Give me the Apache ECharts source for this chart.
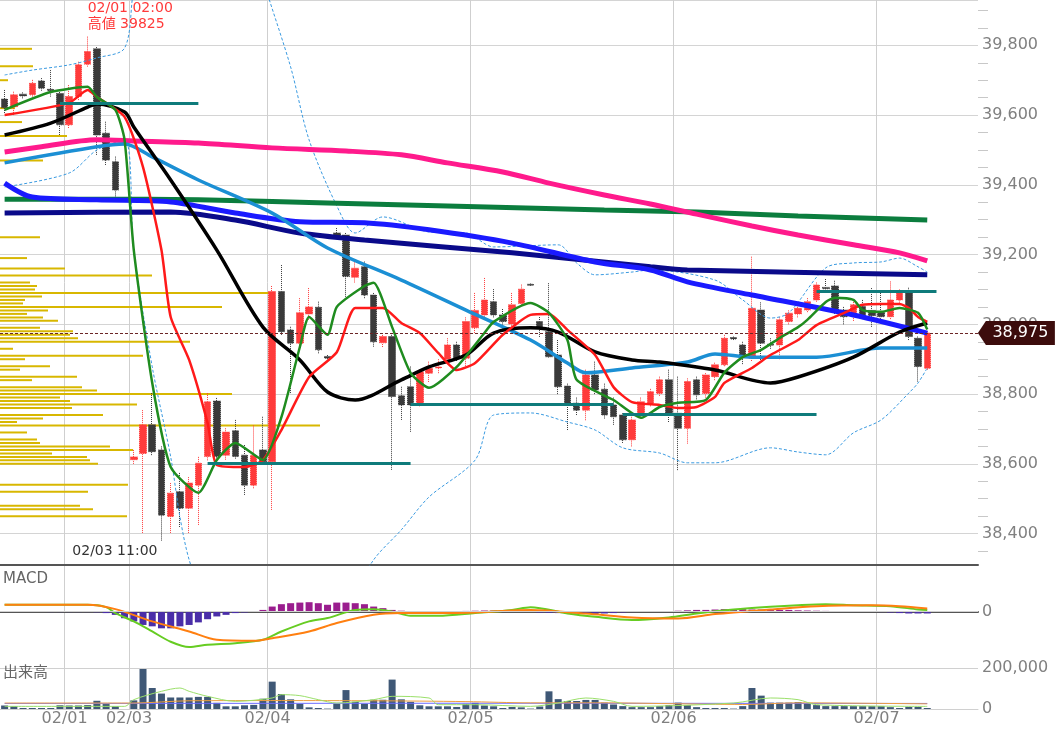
<!DOCTYPE html>
<html><head><meta charset="utf-8">
<script src="https://cdn.jsdelivr.net/npm/echarts@6/dist/echarts.min.js"></script>
<style>html,body{margin:0;padding:0;background:#fff}#c{width:1063px;height:752px}</style>
</head><body><div id="c"></div>
<script>
// ---------- time axis ----------
const slotTimes = ["00:00","01:00","02:00","03:00","04:00","05:00","06:00","08:45","09:00","10:00","11:00","12:00","13:00","14:00","15:00","17:00","18:00","19:00","20:00","21:00","22:00","23:00"];
const sessionDays = [["01/31",15,22],["02/01",0,7],["02/03",7,22],["02/04",0,22],["02/05",0,22],["02/06",0,22],["02/07",0,11]];

// ---------- candles (hourly) ----------
const opens = [39646,39624,39660,39658,39698,39674,39662,39572,39653,39746,
39790,39548,39466,null,38612,38630,38712,38640,38449,38520,
38473,38539,38621,38780,38625,38695,38625,38539,38640,38606,
39094,38984,38946,39030,39049,38908,39262,39256,39135,39165,
39084,38947,38965,38795,38821,38769,38860,38875,38900,38941,
38903,38990,39027,39065,39027,39001,39060,39115,39008,38979,
38912,38823,38774,38754,38855,38814,38769,38740,38669,38740,
38774,38802,38841,38745,38702,38841,38802,38850,38884,38962,
38941,38903,39041,38943,38941,39008,39030,39041,39070,39106,
39110,39041,39027,39051,39040,39035,39022,39070,39094,38960,
38874];
const closes = [39621,39658,39655,39691,39677,39670,39572,39653,39744,39782,
39543,39471,39385,null,38620,38712,38635,38453,38516,38473,
38545,38602,38778,38621,38691,38621,38539,38625,38606,39094,
38979,38946,39033,39050,38927,38903,39250,39137,39161,39084,
38950,38965,38793,38769,38769,38864,38874,38878,38941,38903,
39008,39040,39070,39027,39008,39056,39101,39112,38989,38907,
38821,38774,38754,38855,38812,38740,38735,38669,38726,38778,
38807,38841,38745,38702,38836,38798,38855,38884,38960,38958,
38912,39046,38946,38940,39013,39032,39046,39065,39113,39102,
39040,39022,39056,39022,39025,39022,39070,39094,38965,38879,
38975];
const lows = [39606,39600,39648,39653,39670,39653,39543,39563,39643,39739,
39486,39457,39361,null,38600,38402,38625,38380,38402,38419,
38402,38425,38610,38610,38612,38615,38511,38530,38602,38468,
38970,38803,38940,39013,38917,38900,39245,39079,39120,39075,
38936,38935,38583,38726,38692,38765,38835,38860,38895,38895,
38880,38975,39022,39020,38988,38983,39056,39110,38964,38905,
38800,38697,38740,38725,38800,38730,38712,38660,38650,38730,
38765,38795,38720,38582,38658,38785,38790,38840,38880,38955,
38886,38895,38892,38930,38900,39000,39020,39035,39065,39095,
39030,39000,39010,39015,38993,39010,39015,39060,38955,38836,
38870];
const highs = [39672,39667,39665,39701,39706,39729,39672,39686,39753,39825,
39795,39581,39481,null,38640,38754,38803,38650,38545,38574,
38562,38620,38803,38789,38702,38726,38654,38710,38735,39110,
39170,38993,39075,39104,39065,38912,39276,39262,39180,39180,
39090,38975,38970,38821,38879,38870,38893,38900,38960,38950,
39020,39090,39133,39101,39044,39090,39114,39117,39021,39118,
38955,38830,38790,38870,38893,38830,38790,38745,38735,38790,
38815,38850,38870,38850,38845,38850,38860,38890,38970,38965,
38950,39194,39063,38960,39020,39040,39055,39075,39120,39130,
39125,39050,39070,39070,39104,39090,39123,39100,39105,38965,
38980];
const volumes = [17000,13000,5000,5000,5000,5000,18000,17000,17000,19000,
40000,24000,13000,0,42000,195000,102000,75000,56000,56000,
56000,59000,59000,30000,13000,13000,18000,20000,50000,133000,
73000,47000,25000,8000,5000,2000,25000,92000,35000,25000,
45000,45000,143000,47000,35000,18000,13000,13000,13000,10000,
25000,30000,17000,13000,5000,10000,8000,2000,12000,86000,
48000,39000,39000,44000,44000,31000,22000,14000,9000,9000,
9000,14000,19000,31000,19000,9000,5000,5000,5000,2000,
14000,102000,65000,31000,31000,31000,34000,27000,19000,14000,
14000,14000,14000,14000,14000,14000,9000,5000,10000,10000,
5000];

// ---------- overlays [candle index, price] ----------
const pinkMA = [[0,39494],[4,39509],[10,39529],[14,39526],[21,39520],[29,39506],[37,39497],[43,39486],[48,39463],[54,39437],[59,39405],[65,39371],[70,39345],[75,39316],[81,39282],[86,39256],[92,39228],[97,39205],[100,39182]];
const greenLongMA = [[0,39359],[10,39359],[21,39357],[35,39348],[48,39339],[65,39328],[75,39322],[86,39311],[100,39299]];
const navyMA = [[0,39319],[18,39322],[25,39299],[32,39262],[39,39242],[55,39205],[70,39165],[74,39156],[100,39142]];
const blueMA = [[0,39405],[3,39365],[10,39357],[18,39351],[25,39319],[32,39294],[39,39291],[46,39271],[55,39233],[64,39179],[70,39156],[74,39122],[81,39084],[92,39027],[100,38975]];
const lightBlueMA = [[0,39463],[10,39509],[13,39517],[16,39480],[21,39414],[29,39319],[35,39219],[43,39127],[50,39041],[57,38955],[61,38889],[63,38861],[68,38875],[74,38892],[77,38915],[81,38906],[88,38906],[95,38932],[100,38932]];
const blackMA = [[0,39543],[5,39577],[9,39623],[10,39632],[13,39609],[14,39566],[18,39414],[23,39213],[28,38992],[32,38898],[35,38806],[38,38783],[43,38841],[46,38878],[50,38912],[53,38975],[57,38990],[60,38978],[64,38921],[68,38898],[71,38892],[77,38869],[83,38832],[86,38849],[92,38906],[97,38978],[100,39004]];
const redMA = [[0,39600],[7,39635],[9,39672],[10,39652],[13,39595],[15,39451],[17,39213],[18,39021],[20,38898],[22,38717],[23,38597],[26,38591],[28,38611],[30,38697],[33,38849],[36,38920],[38,39047],[41,39047],[43,39004],[45,38975],[47,38918],[49,38869],[51,38889],[54,38970],[57,39027],[59,39030],[61,38984],[64,38912],[66,38820],[68,38777],[71,38769],[73,38760],[75,38763],[77,38792],[78,38832],[81,38875],[83,38912],[86,38955],[88,38998],[91,39033],[93,39056],[95,39058],[97,39058],[98,39047],[99,39021],[100,39007]];
const greenMA = [[0,39615],[5,39666],[9,39681],[10,39652],[12,39615],[13,39529],[14,39213],[16,38832],[18,38591],[21,38517],[23,38611],[25,38660],[28,38611],[30,38734],[32,38935],[33,39021],[35,38970],[36,39050],[39,39110],[40,39119],[42,38992],[44,38861],[46,38818],[49,38878],[52,38975],[53,39007],[57,39061],[59,39033],[61,38955],[62,38841],[66,38783],[69,38732],[71,38763],[73,38775],[76,38783],[78,38861],[80,38906],[82,38927],[84,38961],[86,38992],[87,39013],[89,39064],[90,39076],[92,39070],[93,39041],[95,39036],[97,39047],[99,39033],[100,38985]];
const bbUpper = [[0,39715],[3,39729],[7,39744],[10,39764],[13,39792],[14,39960],[16,40150],[20,40300],[24,40250],[27,40100],[28,39990],[31,39738],[33,39529],[36,39340],[38,39262],[41,39308],[46,39265],[50,39262],[53,39222],[60,39228],[62,39176],[64,39142],[68,39150],[70,39156],[77,39127],[80,39070],[83,39018],[85,39033],[89,39162],[92,39176],[95,39179],[97,39190],[99,39165],[100,39150]];
const bbLower = [[0,39394],[7,39434],[10,39500],[13,39529],[14,39213],[16,38878],[18,38620],[19,38448],[20,38325],[22,38180],[26,38020],[31,38000],[36,38150],[40,38325],[43,38411],[46,38505],[51,38611],[53,38740],[57,38746],[61,38720],[64,38697],[67,38646],[71,38631],[74,38603],[77,38603],[83,38646],[86,38634],[89,38626],[92,38689],[95,38726],[98,38803],[99,38832],[100,38875]];

// horizontal levels
const levelStart = [6,22,44,67,88];
const levelEnd = [21,44,66,88,101];
const levelPrice = [39635,38602,38772,38742,39094];

// price-by-volume profile
const profilePrices = [39790,39740,39700,39620,39580,39540,39470,39250,39190,39160,39140,39120,39110,39100,39090,39080,39070,39060,39050,39040,39030,39020,39010,38990,38980,38970,38960,38950,38930,38910,38900,38880,38870,38850,38840,38820,38810,38800,38790,38780,38770,38760,38740,38730,38720,38710,38690,38670,38660,38650,38640,38630,38620,38610,38600,38540,38520,38480,38470,38450];
const profileVolumes = [32,33,8,15,22,67,43,40,27,65,152,30,37,35,270,42,25,23,222,48,27,43,58,40,73,70,78,190,13,143,25,50,20,77,32,82,97,232,60,70,137,72,103,43,17,320,27,37,40,110,133,52,87,90,98,128,88,80,93,127];

// MACD
const macdLine = [[0,34],[9,34],[11,22],[12,-8],[14,-50],[16,-101],[18,-153],[20,-180],[22,-168],[25,-160],[28,-143],[30,-101],[33,-50],[35,-33],[38,8],[40,12],[42,0],[44,-22],[47,-22],[51,-8],[55,8],[57,22],[61,-10],[64,-27],[68,-43],[72,-30],[75,-10],[79,10],[83,24],[86,32],[89,37],[92,32],[96,27],[99,10],[100,7]];
const signalLine = [[0,34],[9,34],[12,12],[16,-50],[20,-101],[23,-143],[27,-148],[29,-135],[33,-101],[36,-58],[40,-16],[43,-8],[47,-8],[51,-5],[57,8],[63,-10],[68,-30],[73,-35],[77,-13],[83,10],[88,27],[94,32],[97,27],[100,15]];
const macdHist = [-2,-2,-2,-2,-2,-3,-3,-3,-3,-3,
-4,-8,-17,-34,-50,-68,-75,-85,-85,-75,
-68,-55,-39,-25,-17,-8,-5,-2,8,25,
37,42,45,47,42,34,45,45,42,37,
25,17,8,4,-4,-5,-5,-5,-4,-3,
3,4,5,5,5,4,3,-2,-5,-6,
-8,-10,-10,-12,-12,-10,-8,-5,-3,-2,
-2,-1,2,4,6,8,8,10,12,12,
12,10,10,8,8,8,6,5,4,3,
2,-1,-1,-1,-2,-3,-5,-8,-10,-10,
-10];

// volume averages
const volMA5 = [[0,12800],[13,12800],[14,45400],[17,86000],[19,102000],[20,86000],[22,61600],[25,37200],[29,53500],[30,69800],[32,65000],[34,45400],[36,29100],[40,45400],[42,61600],[46,53500],[47,21000],[51,21000],[57,12800],[60,29100],[63,53500],[66,37200],[68,12800],[79,29100],[83,53500],[86,45400],[88,21000],[100,12800]];
const volMA25 = [[0,29000],[14,29000],[20,40000],[30,41000],[40,40000],[50,36000],[57,30000],[65,30000],[72,26000],[80,22000],[86,30000],[93,28000],[100,25000]];
const volMA75 = [[0,27000],[50,28000],[100,27000]];

// ---------- build ----------
const FONT = "'DejaVu Sans','Noto Sans CJK JP',sans-serif";
const PRICE_MIN = 38310, PRICE_MAX = 39930;
const categories = [];
sessionDays.forEach(([d, s, e]) => { for (let k = s; k < e; k++) categories.push(d + ' ' + slotTimes[k]); });
const N = categories.length;
const dayStarts = [];
categories.forEach((c, i) => { if (i > 0 && c.slice(0,5) !== categories[i-1].slice(0,5)) dayStarts.push(i); });
const boundaryNames = categories.concat(['']);
const candleData = opens.map((o, i) => o === null ? '-' : [o, closes[i], lows[i], highs[i]]);
let hiIdx = 0, loIdx = 0;
highs.forEach((h, i) => { if (h !== null && h > highs[hiIdx]) hiIdx = i; });
lows.forEach((l, i) => { if (l !== null && l < lows[loIdx]) loIdx = i; });
const lastIdx = closes.length - 1, lastClose = closes[lastIdx];
const priceBins = [];
for (let p = PRICE_MIN; p <= PRICE_MAX; p += 10) priceBins.push(p);
const profileData = priceBins.map(() => '-');
profilePrices.forEach((p, k) => { profileData[Math.round((p - PRICE_MIN) / 10)] = profileVolumes[k]; });

const catAxis = (gi, extra) => Object.assign({type:'category', gridIndex:gi, data:categories, boundaryGap:true,
  axisTick:{show:false}, axisLabel:{show:false}, splitLine:{show:false}}, extra);
const bndAxis = (gi, extra) => Object.assign({type:'category', gridIndex:gi, data:boundaryNames, boundaryGap:false,
  axisLine:{show:false}, axisTick:{show:false}, axisLabel:{show:false},
  splitLine:{show:true, interval:(i) => dayStarts.includes(i), lineStyle:{color:'#cfcfcf', width:1}}}, extra);
const line = (data, color, width, extra) => Object.assign({type:'line', xAxisIndex:0, yAxisIndex:0, data,
  symbol:'none', smooth:0.3, silent:true, z:4, lineStyle:{color, width}}, extra);
const axisText = {color:'#808080', fontSize:16, fontFamily:FONT};

const option = {
  animation:false,
  backgroundColor:'#ffffff',
  title:[
    {text:'MACD', left:3, top:572, padding:0, textStyle:{color:'#666', fontSize:15, fontWeight:'normal', fontFamily:FONT}},
    {text:'出来高', left:3, top:666, padding:0, textStyle:{color:'#666', fontSize:15, fontWeight:'normal', fontFamily:FONT}}
  ],
  grid:[
    {left:0, right:85, top:0, height:565},
    {left:0, right:85, top:0, height:565},
    {left:0, right:85, top:565, height:93},
    {left:0, right:85, top:658, height:51}
  ],
  xAxis:[
    catAxis(0, {position:'bottom', axisLine:{show:true, lineStyle:{color:'#555', width:2}}}),
    bndAxis(0, {position:'top'}),
    {type:'value', gridIndex:1, min:0, max:978, show:false},
    catAxis(2, {position:'bottom', axisLine:{show:true, lineStyle:{color:'#555', width:2}}}),
    bndAxis(2, {position:'top'}),
    catAxis(3, {position:'top', show:false}),
    bndAxis(3, {position:'bottom', axisLine:{show:true, lineStyle:{color:'#d0d0d0'}},
      axisLabel:Object.assign({show:true, interval:(i) => dayStarts.includes(i), formatter:(v) => v.slice(0,5), margin:2}, axisText)})
  ],
  yAxis:[
    {type:'value', gridIndex:0, position:'right', min:PRICE_MIN, max:PRICE_MAX, splitNumber:8,
      axisLine:{show:false}, axisTick:{show:false},
      minorTick:{show:true, splitNumber:4, length:10, lineStyle:{color:'#c8c8c8'}},
      axisLabel:Object.assign({margin:4, showMinLabel:false, showMaxLabel:false, formatter:(v) => v.toLocaleString('en-US')}, axisText),
      splitLine:{lineStyle:{color:'#d4d4d4'}}},
    {type:'category', gridIndex:1, data:priceBins, boundaryGap:false, show:false},
    {type:'value', gridIndex:2, position:'right', min:-235, max:235, interval:235,
      axisLine:{show:false}, axisTick:{show:false}, splitLine:{show:false},
      axisLabel:Object.assign({margin:4, formatter:(v) => v === 0 ? '0' : ''}, axisText)},
    {type:'value', gridIndex:3, position:'right', min:0, max:248000, interval:200000,
      axisLine:{show:false}, axisTick:{show:false}, splitLine:{show:false},
      axisLabel:Object.assign({margin:4, formatter:(v) => v === 0 ? '0' : (v === 200000 ? '200,000' : '')}, axisText)}
  ],
  series:[
    {type:'bar', xAxisIndex:2, yAxisIndex:1, data:profileData, barWidth:2, silent:true, z:1,
      itemStyle:{color:'#d8b700'}},
    {type:'candlestick', xAxisIndex:0, yAxisIndex:0, data:candleData, barWidth:7, z:2, silent:true,
      itemStyle:{color:'#ff3b3b', color0:'#3a3a3a', borderColor:'#ff3b3b', borderColor0:'#3a3a3a', borderWidth:1, borderType:'dotted'},
      markPoint:{symbol:'circle', symbolSize:0, silent:true, data:[
        {coord:[hiIdx, highs[hiIdx]], label:{show:true, position:'top', distance:4, align:'left', color:'#ff3a3a', fontSize:14, lineHeight:16, fontFamily:FONT,
          formatter: categories[hiIdx] + '\n高値 ' + highs[hiIdx]}},
        {coord:[loIdx, lows[loIdx]], label:{show:true, position:'bottom', distance:4, align:'right', offset:[-4,0], color:'#333', fontSize:14, fontFamily:FONT,
          formatter: categories[loIdx]}}
      ]}},
    line(bbUpper, '#3a9ae0', 1, {lineStyle:{color:'#3a9ae0', width:1, type:[3,2]}, z:3}),
    line(bbLower, '#3a9ae0', 1, {lineStyle:{color:'#3a9ae0', width:1, type:[3,2]}, z:3}),
    line(greenLongMA, '#0b7d3e', 5),
    line(navyMA, '#0a0a8a', 5),
    line(blueMA, '#1a1aff', 5),
    line(pinkMA, '#ff1a8c', 5),
    line(lightBlueMA, '#1b8fd4', 3.5),
    line(blackMA, '#000000', 3.5),
    line(redMA, '#ff1a1a', 2.5, {smooth:0.2}),
    line(greenMA, '#1f8c1f', 2.5, {smooth:0.2}),
    {type:'line', xAxisIndex:0, yAxisIndex:0, data:[], z:5, silent:true,
      markLine:{symbol:['none','none'], silent:true, label:{show:false}, lineStyle:{color:'#0f7b7b', width:3, type:'solid'},
        data: levelPrice.map((p, k) => [{coord:[levelStart[k], p]}, {coord:[levelEnd[k], p]}])}},
    {type:'line', xAxisIndex:0, yAxisIndex:0, data:[], clip:false, z:6, silent:true,
      markLine:{symbol:['none','none'], silent:true, label:{show:false}, lineStyle:{color:'#6b2626', type:[3,2], width:1},
        data:[{yAxis:lastClose}]},
      markPoint:{silent:true, data:[{coord:[N-1, lastClose], symbol:'path://M0,12L8,0L77,0L77,24L8,24Z', symbolSize:[77,24], symbolOffset:[43,0],
        itemStyle:{color:'#3c0c0c'},
        label:{show:true, position:'inside', offset:[4,0], color:'#ffffff', fontSize:16, fontFamily:FONT, formatter:lastClose.toLocaleString('en-US')}}]}},
    {type:'bar', xAxisIndex:3, yAxisIndex:2, data:macdHist, barWidth:7, silent:true,
      itemStyle:{color:(p) => p.value >= 0 ? '#9a1d8e' : '#4a2ea8'},
      markLine:{symbol:['none','none'], silent:true, label:{show:false}, lineStyle:{color:'#d0d0d0', width:1, type:'solid'}, data:[{yAxis:0}]}},
    {type:'line', xAxisIndex:3, yAxisIndex:2, data:macdLine, symbol:'none', smooth:0.3, silent:true, lineStyle:{color:'#66cc22', width:2}},
    {type:'line', xAxisIndex:3, yAxisIndex:2, data:signalLine, symbol:'none', smooth:0.3, silent:true, lineStyle:{color:'#ff7f10', width:2}},
    {type:'bar', xAxisIndex:5, yAxisIndex:3, data:volumes, barWidth:7, silent:true, itemStyle:{color:'#3f5876'},
      markLine:{symbol:['none','none'], silent:true, label:{show:false}, lineStyle:{color:'#d0d0d0', width:1, type:'solid'}, data:[{yAxis:200000}]}},
    {type:'line', xAxisIndex:5, yAxisIndex:3, data:volMA75, symbol:'none', silent:true, lineStyle:{color:'#6a6aff', width:1}},
    {type:'line', xAxisIndex:5, yAxisIndex:3, data:volMA25, symbol:'none', smooth:0.3, silent:true, lineStyle:{color:'#f0a040', width:1}},
    {type:'line', xAxisIndex:5, yAxisIndex:3, data:volMA5, symbol:'none', smooth:0.3, silent:true, lineStyle:{color:'#9be06a', width:1}}
  ]
};
const chart = echarts.init(document.getElementById('c'));
chart.setOption(option);
</script>
</body></html>
